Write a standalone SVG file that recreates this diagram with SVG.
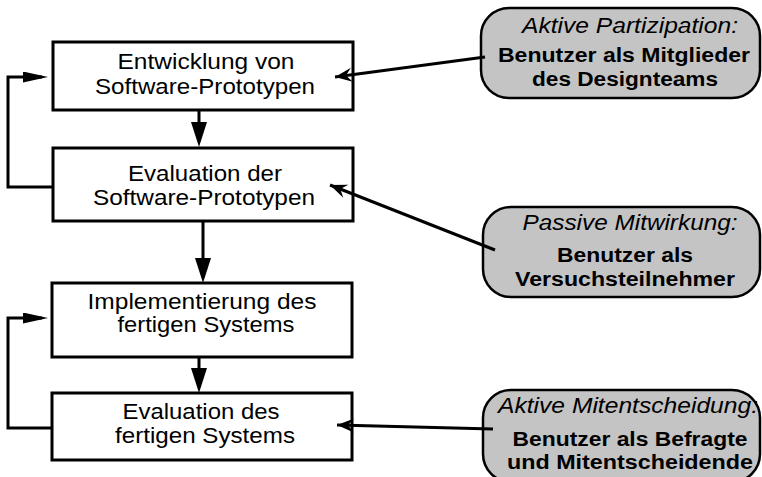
<svg xmlns="http://www.w3.org/2000/svg" width="762" height="477" viewBox="0 0 762 477">
<style>
.box{fill:#fff;stroke:#000;stroke-width:3}
.call{fill:#c4c4c4;stroke:#000;stroke-width:2.5}
.t{font-family:"Liberation Sans",Arial,sans-serif;font-size:22px;fill:#000;text-anchor:middle}
.ci{font-family:"Liberation Sans",Arial,sans-serif;font-size:22px;font-style:italic;fill:#000;text-anchor:middle}
.cb{font-family:"Liberation Sans",Arial,sans-serif;font-size:20px;font-weight:bold;fill:#000;text-anchor:middle}
.ln{fill:none;stroke:#000;stroke-width:3}
</style>
<defs>
<marker id="down" markerUnits="userSpaceOnUse" viewBox="0 0 25 16" refX="19" refY="8" markerWidth="25" markerHeight="16" orient="auto">
<path d="M0,0 L25,8 L0,16 Z" fill="#000"/>
</marker>
<marker id="loop" markerUnits="userSpaceOnUse" viewBox="0 0 25 11" refX="19" refY="5.5" markerWidth="25" markerHeight="11" orient="auto">
<path d="M0,0 L25,5.5 L0,11 Z" fill="#000"/>
</marker>
<marker id="barb" markerUnits="userSpaceOnUse" viewBox="-18 -8 20 16" refX="0" refY="0" markerWidth="20" markerHeight="16" orient="auto" overflow="visible">
<path d="M0,0 L-17,-7 L-11,0 L-17,7 Z" fill="#000"/>
</marker>
</defs>

<g id="box1">
<rect class="box" x="53" y="42" width="300" height="68"/>
<text class="t" x="206" y="69" textLength="177" lengthAdjust="spacingAndGlyphs">Entwicklung von</text>
<text class="t" x="205" y="94" textLength="220" lengthAdjust="spacingAndGlyphs">Software-Prototypen</text>
</g>
<g id="box2">
<rect class="box" x="53" y="148" width="300" height="73"/>
<text class="t" x="205" y="181" textLength="154" lengthAdjust="spacingAndGlyphs">Evaluation der</text>
<text class="t" x="204" y="205" textLength="222" lengthAdjust="spacingAndGlyphs">Software-Prototypen</text>
</g>
<g id="box3">
<rect class="box" x="52" y="283" width="300" height="74"/>
<text class="t" x="202" y="309" textLength="229" lengthAdjust="spacingAndGlyphs">Implementierung des</text>
<text class="t" x="206" y="332" textLength="177" lengthAdjust="spacingAndGlyphs">fertigen Systems</text>
</g>
<g id="box4">
<rect class="box" x="52" y="393" width="300" height="67"/>
<text class="t" x="201" y="419" textLength="157" lengthAdjust="spacingAndGlyphs">Evaluation des</text>
<text class="t" x="205" y="443" textLength="180" lengthAdjust="spacingAndGlyphs">fertigen Systems</text>
</g>

<g id="callout1">
<rect class="call" x="481" y="8" width="279" height="90" rx="28"/>
<text class="ci" x="630" y="33" textLength="216" lengthAdjust="spacingAndGlyphs">Aktive Partizipation:</text>
<text class="cb" x="624" y="62" textLength="252" lengthAdjust="spacingAndGlyphs">Benutzer als Mitglieder</text>
<text class="cb" x="625" y="86" textLength="186" lengthAdjust="spacingAndGlyphs">des Designteams</text>
</g>
<g id="callout2">
<rect class="call" x="483" y="207" width="277" height="90" rx="28"/>
<text class="ci" x="630" y="230" textLength="215" lengthAdjust="spacingAndGlyphs">Passive Mitwirkung:</text>
<text class="cb" x="625" y="262" textLength="136" lengthAdjust="spacingAndGlyphs">Benutzer als</text>
<text class="cb" x="625" y="286" textLength="220" lengthAdjust="spacingAndGlyphs">Versuchsteilnehmer</text>
</g>
<g id="callout3">
<rect class="call" x="483" y="390" width="277" height="92" rx="28"/>
<text class="ci" x="628" y="413" textLength="260" lengthAdjust="spacingAndGlyphs">Aktive Mitentscheidung:</text>
<text class="cb" x="630" y="446" textLength="235" lengthAdjust="spacingAndGlyphs">Benutzer als Befragte</text>
<text class="cb" x="630" y="469" textLength="246" lengthAdjust="spacingAndGlyphs">und Mitentscheidende</text>
</g>

<g id="connectors">
<line class="ln" x1="199" y1="110" x2="199" y2="141" marker-end="url(#down)"/>
<line class="ln" x1="203" y1="221" x2="203" y2="277" marker-end="url(#down)"/>
<line class="ln" x1="199" y1="357" x2="199" y2="387" marker-end="url(#down)"/>
<polyline class="ln" points="53,187 8,187 8,77 42,77" marker-end="url(#loop)"/>
<polyline class="ln" points="52,428 8,428 8,318 42,318" marker-end="url(#loop)"/>
<line class="ln" x1="485" y1="57" x2="335" y2="77" marker-end="url(#barb)"/>
<line class="ln" x1="495" y1="250" x2="330" y2="185" marker-end="url(#barb)"/>
<line class="ln" x1="493" y1="429" x2="337" y2="425" marker-end="url(#barb)"/>
</g>
</svg>
